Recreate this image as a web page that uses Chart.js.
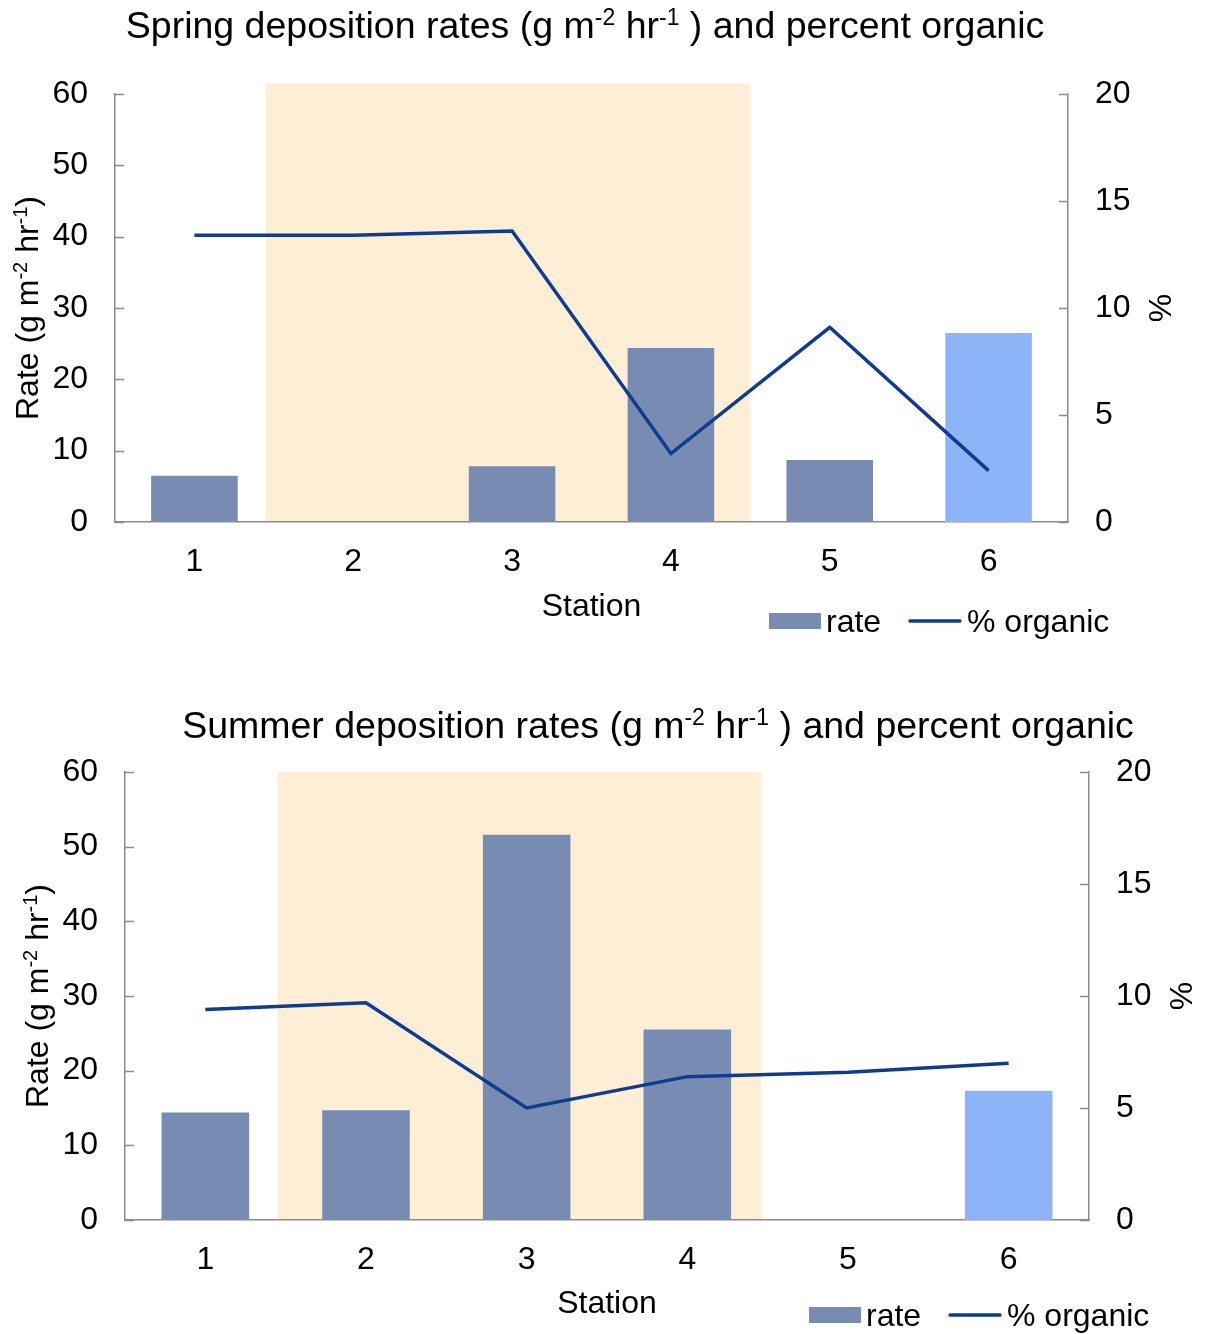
<!DOCTYPE html>
<html>
<head>
<meta charset="utf-8">
<script src="https://cdn.jsdelivr.net/npm/chart.js@4.4.0/dist/chart.umd.min.js"></script>
<style>
  html, body { margin: 0; padding: 0; background: #ffffff; }
  #wrap { position: relative; width: 1205px; height: 1334px; overflow: hidden; }
  .panel { position: absolute; left: 0; width: 1205px; height: 667px; }
</style>
</head>
<body>
<div id="wrap">
  <div class="panel" style="top:0"><canvas id="spring"></canvas></div>
  <div class="panel" style="top:667px"><canvas id="summer"></canvas></div>
</div>
<script>
// Stations along the transect
const stations = ['1', '2', '3', '4', '5', '6'];

// Spring: deposition rate (g m-2 hr-1) and percent organic
const springRate    = [6.5, null, 7.8, 24.4, 8.7, 26.5];
const springOrganic = [13.4, 13.4, 13.6, 3.2, 9.1, 2.4];

// Summer: deposition rate (g m-2 hr-1) and percent organic
const summerRate    = [14.4, 14.7, 51.6, 25.5, null, 17.3];
const summerOrganic = [9.4, 9.7, 5.0, 6.4, 6.6, 7.0];

// Axis tick values
const rateTicks    = [0, 10, 20, 30, 40, 50, 60];
const organicTicks = [0, 5, 10, 15, 20];

const FONT = '"Liberation Sans", Arial, Helvetica, sans-serif';
const BAR = '#788BB2';
const BAR_LAST = '#8EB4F8';
const LINE = '#0E3C90';
const SHADE = '#FEEED5';
const AXIS = '#8C8C8C';
const TICK_SIZE = 32;
const LABEL_SIZE = 32;
const TITLE_SIZE = 37.5;

// Draw a run of text pieces, some of them superscript, centred on (x, y)
function drawRich(ctx, segs, size, x, y, angle) {
  ctx.save();
  ctx.translate(x, y);
  ctx.rotate(angle || 0);
  ctx.fillStyle = '#000';
  ctx.textAlign = 'left';
  ctx.textBaseline = 'alphabetic';
  const supSize = Math.round(size * 0.62);
  const widths = segs.map(s => {
    ctx.font = (s.sup ? supSize : size) + 'px ' + FONT;
    return ctx.measureText(s.t).width;
  });
  const total = widths.reduce((a, b) => a + b, 0);
  let cx = -total / 2;
  const base = size * 0.358;
  segs.forEach((s, i) => {
    ctx.font = (s.sup ? supSize : size) + 'px ' + FONT;
    ctx.fillText(s.t, cx, base - (s.sup ? size * 0.36 : 0));
    cx += widths[i];
  });
  ctx.restore();
}

function titleSegs(season) {
  return [
    { t: season + ' deposition rates (g m' },
    { t: '-2', sup: true },
    { t: ' hr' },
    { t: '-1', sup: true },
    { t: ' ) and percent organic' }
  ];
}
const rateTitle = [
  { t: 'Rate (g m' }, { t: '-2', sup: true }, { t: ' hr' }, { t: '-1', sup: true }, { t: ')' }
];

function makePanel(id, p) {
  const H = 667;
  const W = 1205;

  // Station band behind the bars
  const shadePlugin = {
    id: 'stationBand',
    beforeDraw(chart) {
      const { ctx, scales: { x, y } } = chart;
      const x0 = x.getPixelForValue(p.band.from);
      const x1 = x.getPixelForValue(p.band.to);
      const yTop = y.getPixelForValue(p.band.top);
      const yBot = y.getPixelForValue(0);
      ctx.save();
      ctx.fillStyle = SHADE;
      ctx.fillRect(x0, yTop, x1 - x0, yBot - yTop);
      ctx.restore();
    }
  };

  // Inward tick marks, titles and the key
  const decorPlugin = {
    id: 'decor',
    afterDraw(chart) {
      const { ctx, chartArea: a, scales: { y, y1 } } = chart;
      ctx.save();
      ctx.strokeStyle = AXIS;
      ctx.lineWidth = 1.5;
      ctx.beginPath();
      y.ticks.forEach((t, i) => {
        const py = Math.round(y.getPixelForTick(i)) + 0.5;
        ctx.moveTo(a.left, py); ctx.lineTo(a.left + 9, py);
      });
      y1.ticks.forEach((t, i) => {
        const py = Math.round(y1.getPixelForTick(i)) + 0.5;
        ctx.moveTo(a.right - 9, py); ctx.lineTo(a.right, py);
      });
      ctx.stroke();
      ctx.restore();

      drawRich(ctx, titleSegs(p.season), TITLE_SIZE, p.titleX, p.titleY, 0);
      drawRich(ctx, rateTitle, LABEL_SIZE, p.yTitleX, (a.top + a.bottom) / 2, -Math.PI / 2);
      drawRich(ctx, [{ t: '%' }], LABEL_SIZE, p.pctX, (a.top + a.bottom) / 2, -Math.PI / 2);
      drawRich(ctx, [{ t: 'Station' }], LABEL_SIZE, (a.left + a.right) / 2, p.stationY, 0);

      // key
      const lx = p.legendX, ly = p.legendY;
      ctx.save();
      ctx.fillStyle = BAR;
      ctx.fillRect(lx, ly - 8, 52, 16);
      ctx.strokeStyle = LINE;
      ctx.lineWidth = 3.5;
      ctx.lineCap = 'round';
      ctx.beginPath();
      ctx.moveTo(lx + 141, ly); ctx.lineTo(lx + 191, ly);
      ctx.stroke();
      ctx.fillStyle = '#000';
      ctx.font = LABEL_SIZE + 'px ' + FONT;
      ctx.textBaseline = 'alphabetic';
      ctx.textAlign = 'left';
      ctx.fillText('rate', lx + 57, ly + LABEL_SIZE * 0.358);
      ctx.fillText('% organic', lx + 198, ly + LABEL_SIZE * 0.358);
      ctx.restore();
    }
  };

  return new Chart(document.getElementById(id), {
    data: {
      labels: stations,
      datasets: [
        {
          type: 'line',
          label: '% organic',
          data: p.organic,
          yAxisID: 'y1',
          borderColor: LINE,
          borderWidth: 3.5,
          pointRadius: 0,
          tension: 0,
          order: 0
        },
        {
          type: 'bar',
          label: 'rate',
          data: p.rate,
          yAxisID: 'y',
          backgroundColor: stations.map((s, i) => i === stations.length - 1 ? BAR_LAST : BAR),
          barPercentage: 0.545,
          categoryPercentage: 1,
          order: 1
        }
      ]
    },
    options: {
      responsive: true,
      maintainAspectRatio: false,
      animation: false,
      layout: { padding: { top: p.top, left: 0, right: 0, bottom: 0 } },
      plugins: { legend: { display: false }, tooltip: { enabled: false }, title: { display: false } },
      scales: {
        x: {
          type: 'category',
          offset: true,
          grid: { display: false, drawTicks: false },
          border: { display: true, color: AXIS, width: 1.5 },
          ticks: { color: '#000', padding: 21, font: { family: FONT, size: TICK_SIZE } },
          afterFit: s => { s.height = H - p.bottom; }
        },
        y: {
          position: 'left',
          min: rateTicks[0],
          max: rateTicks[rateTicks.length - 1],
          grid: { display: false, drawTicks: false },
          border: { display: true, color: AXIS, width: 1.5 },
          ticks: { color: '#000', padding: 27, font: { family: FONT, size: TICK_SIZE } },
          afterBuildTicks: s => { s.ticks = rateTicks.map(v => ({ value: v })); },
          afterFit: s => { s.width = p.left; }
        },
        y1: {
          position: 'right',
          min: organicTicks[0],
          max: organicTicks[organicTicks.length - 1],
          grid: { display: false, drawTicks: false },
          border: { display: true, color: AXIS, width: 1.5 },
          ticks: { color: '#000', padding: 27, font: { family: FONT, size: TICK_SIZE } },
          afterBuildTicks: s => { s.ticks = organicTicks.map(v => ({ value: v })); },
          afterFit: s => { s.width = W - p.right; }
        }
      }
    },
    plugins: [shadePlugin, decorPlugin]
  });
}

makePanel('spring', {
  season: 'Spring',
  rate: springRate,
  organic: springOrganic,
  band: { from: 0.45, to: 3.5, top: 61.5 },
  left: 115, right: 1068, top: 94, bottom: 522,
  titleX: 585, titleY: 25,
  yTitleX: 27, pctX: 1160, stationY: 605,
  legendX: 769, legendY: 621
});

makePanel('summer', {
  season: 'Summer',
  rate: summerRate,
  organic: summerOrganic,
  band: { from: 0.45, to: 3.46, top: 60 },
  left: 125, right: 1089, top: 105, bottom: 553,
  titleX: 658, titleY: 58,
  yTitleX: 37, pctX: 1181, stationY: 635,
  legendX: 809, legendY: 648
});
</script>
</body>
</html>
